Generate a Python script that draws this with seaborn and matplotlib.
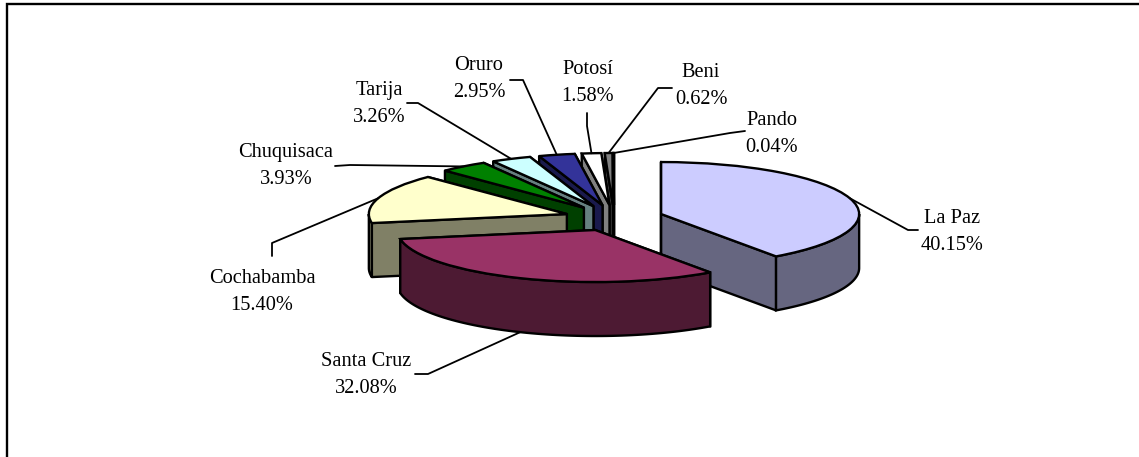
import numpy as np
import matplotlib
matplotlib.use("Agg")
import matplotlib.pyplot as plt
import seaborn as sns
from matplotlib.lines import Line2D

departments = ["La Paz", "Santa Cruz", "Cochabamba", "Chuquisaca", "Tarija", "Oruro", "Potosí", "Beni", "Pando"]
shares = [40.15, 32.08, 15.40, 3.93, 3.26, 2.95, 1.58, 0.62, 0.04]
top_colors = ["#CCCCFF", "#993366", "#FFFFCC", "#008000", "#CCFFFF", "#333399", "#FFFFFF", "#808080", "#000000"]
side_colors = ["#666680", "#4D1A33", "#808066", "#004000", "#668080", "#1A1A4D", "#808080", "#404040", "#000000"]

W, H = 1139, 457
# pie centre and ellipse radii, pixels
CX, CY, RX, RY = 614, 218, 198, 52
DEPTH = 54 / RY

# label centre, then the two leader points on the label side
label_pos = [(952, 232), (366, 375), (262, 292), (286, 166), (379, 104), (479, 79), (588, 83), (701, 86), (772, 134)]
leader_pts = [
    [(918, 230), (908, 230)],
    [(415, 374), (428, 374)],
    [(272, 256), (272, 243)],
    [(335, 166), (350, 165)],
    [(407, 103), (418, 103)],
    [(510, 80), (523, 80)],
    [(587, 113), (587, 126)],
    [(672, 88), (658, 88)],
    [(745, 131), (730, 133)],
]


def pt(w, t, drop=0.0):
    a = np.deg2rad(t)
    return w.center[0] + w.r * np.cos(a), w.center[1] + w.r * np.sin(a) - drop


def draw_sides(ax, w, color, z):
    a, b = w.theta1, w.theta2
    faces = []
    for t, visible in [(a, np.cos(np.deg2rad(a)) > 0), (b, np.cos(np.deg2rad(b)) < 0)]:
        cx, cy = w.center
        px, py = pt(w, t)
        faces.append((visible, [cx, px, px, cx], [cy, py, py - DEPTH, cy - DEPTH]))
    # hidden cut face first so the visible one paints over it
    faces.sort(key=lambda f: f[0])
    for _, xs, ys in faces:
        ax.fill(xs, ys, facecolor=color, edgecolor="black", lw=1.7, zorder=z, joinstyle="round")
    # front part of the outer rim
    aa, bb = a % 360, b % 360
    if bb <= aa:
        bb += 360
    ranges = [(max(aa, 180), min(bb, 360)), (max(aa, 540), min(bb, 720))]
    for lo, hi in ranges:
        if hi <= lo:
            continue
        tt = np.linspace(lo, hi, 80)
        xt, yt = pt(w, tt)
        ax.fill(np.r_[xt, xt[::-1]], np.r_[yt, yt[::-1] - DEPTH], facecolor=color, edgecolor="black", lw=1.7, zorder=z)


sns.set_style("white")
plt.rcParams["font.family"] = ["Liberation Serif", "DejaVu Serif"]

fig = plt.figure(figsize=(W / 100, H / 100), dpi=100)
ax = fig.add_axes([0, 0, 1, 1])
palette = sns.color_palette(top_colors)
wedges, _ = ax.pie(shares, explode=[0.25] * len(shares), colors=palette, startangle=90, counterclock=False,
                   radius=1, wedgeprops={"edgecolor": "black", "linewidth": 1.7})
# squash the pie into an ellipse, the axes fill the whole figure
ax.set_aspect("auto")
ax.set_xlim(-CX / RX, (W - CX) / RX)
ax.set_ylim(-(H - CY) / RY, CY / RY)
ax.axis("off")


def to_fig(x, y):
    return x / W, 1 - y / H


# back slices first, front slices last
order = sorted(range(len(wedges)), key=lambda i: -wedges[i].center[1])
for z, i in enumerate(order):
    draw_sides(ax, wedges[i], side_colors[i], 2 + z)
    wedges[i].set_zorder(2 + z + 0.5)

cum = np.cumsum(shares)
for i, w in enumerate(wedges):
    mid = 90 - (cum[i] - shares[i] / 2) / cum[-1] * 360
    # Santa Cruz has its leader on the bottom of the rim
    drop = DEPTH if np.sin(np.deg2rad(mid)) < -0.5 else 0
    ex, ey = pt(w, mid, drop)
    end = ax.transData.transform((ex, ey))
    xs = [leader_pts[i][0][0], leader_pts[i][1][0], end[0]]
    ys = [leader_pts[i][0][1], leader_pts[i][1][1], H - end[1]]
    fx, fy = to_fig(np.array(xs), np.array(ys))
    fig.add_artist(Line2D(fx, fy, color="black", lw=1.3, zorder=20))
    tx, ty = to_fig(*label_pos[i])
    fig.text(tx, ty, f"{departments[i]}\n{shares[i]:.2f}%", ha="center", va="center",
             fontsize=14.7, color="black", linespacing=1.56, zorder=21)

# chart frame, only left and top are inside the picture
fx, fy = to_fig(np.array([6.5, 6.5, W + 5]), np.array([H + 5, 4, 4]))
fig.add_artist(Line2D(fx, fy, color="black", lw=1.7, solid_joinstyle="miter", zorder=22))

fig.savefig("out.png", dpi=100)
